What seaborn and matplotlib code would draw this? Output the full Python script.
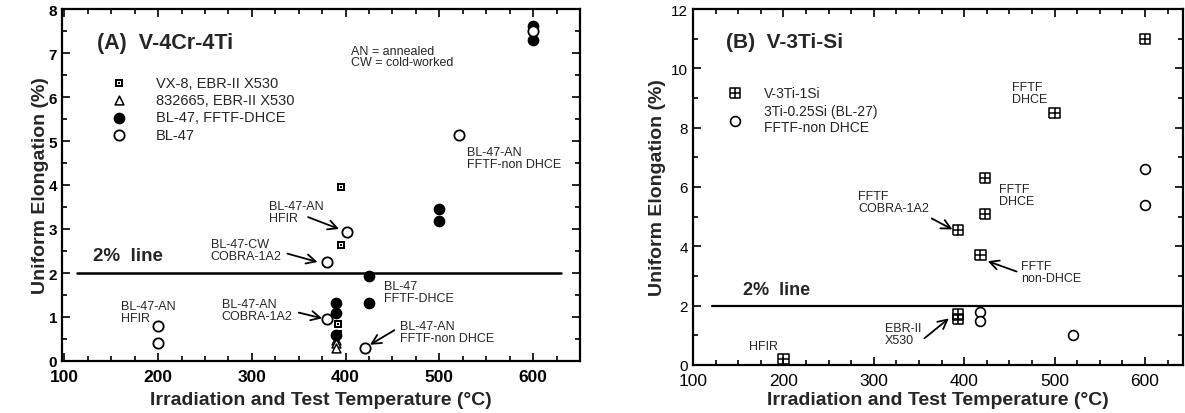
import numpy as np
import matplotlib
matplotlib.use("Agg")
import matplotlib.pyplot as plt
from matplotlib.path import Path
from matplotlib.ticker import MultipleLocator
import seaborn as sns

# ---------------- data: panel A (V-4Cr-4Ti) ----------------
vx8_temp = [395, 395, 392, 392]
vx8_elong = [3.95, 2.63, 0.84, 0.62]

h832665_temp = [390, 390, 390]
h832665_elong = [0.48, 0.40, 0.30]

bl47_dhce_temp = [390, 390, 390, 425, 425, 500, 500, 600, 600]
bl47_dhce_elong = [1.32, 1.10, 0.59, 1.93, 1.32, 3.46, 3.18, 7.62, 7.30]

bl47_temp = [200, 200, 380, 380, 401, 421, 521, 600]
bl47_elong = [0.80, 0.40, 0.95, 2.26, 2.94, 0.30, 5.13, 7.49]

# ---------------- data: panel B (V-3Ti-Si) ----------------
v3ti1si_temp = [600, 500, 423, 423, 393, 418, 393, 393, 200]
v3ti1si_elong = [11.0, 8.5, 6.3, 5.1, 4.55, 3.7, 1.7, 1.55, 0.2]

bl27_temp = [600, 600, 418, 418, 520]
bl27_elong = [6.6, 5.4, 1.8, 1.5, 1.0]

xticks = [100, 200, 300, 400, 500, 600]
yticks_a = [0, 1, 2, 3, 4, 5, 6, 7, 8]
yticks_b = [0, 2, 4, 6, 8, 10, 12]

# ---------------- styling ----------------
sns.set_theme(style="ticks")
plt.rcParams["font.family"] = ["Liberation Sans", "DejaVu Sans"]
plt.rcParams["axes.linewidth"] = 1.6
plt.rcParams["axes.edgecolor"] = "black"


def dotted_square():
    # outer square, hole, and centre dot
    o, h, d = 1.0, 0.55, 0.25
    verts, codes = [], []
    for s, ccw in ((o, True), (h, False), (d, True)):
        sq = [(-s, -s), (s, -s), (s, s), (-s, s)]
        if not ccw:
            sq = sq[::-1]
        verts += sq + [sq[0]]
        codes += [Path.MOVETO, Path.LINETO, Path.LINETO, Path.LINETO, Path.CLOSEPOLY]
    return Path(verts, codes)


def crossed_square():
    verts = [(-1, -1), (1, -1), (1, 1), (-1, 1), (-1, -1),
             (-1, 0), (1, 0), (0, -1), (0, 1)]
    codes = [Path.MOVETO, Path.LINETO, Path.LINETO, Path.LINETO, Path.LINETO,
             Path.MOVETO, Path.LINETO, Path.MOVETO, Path.LINETO]
    return Path(verts, codes)


def style_axes(ax, xlim, ylim, yminor, yticks, bold, xlabelpad, ylabelpad):
    ax.set_xlim(*xlim)
    ax.set_ylim(*ylim)
    ax.set_xticks(xticks)
    ax.set_yticks(yticks)
    ax.xaxis.set_minor_locator(MultipleLocator(25))
    ax.yaxis.set_minor_locator(MultipleLocator(yminor))
    ax.tick_params(which="both", direction="in", top=True, right=True,
                   colors="black", width=1.2)
    ax.tick_params(which="major", length=6)
    ax.tick_params(which="minor", length=3.5)
    ax.tick_params(axis="x", which="major", pad=6)
    for spine in ax.spines.values():
        spine.set_visible(True)
        spine.set_color("black")
    weight = "bold" if bold else "normal"
    for lab in ax.get_xticklabels():
        lab.set_fontsize(12.5)
        lab.set_fontweight(weight)
    for lab in ax.get_yticklabels():
        lab.set_fontsize(11)
        lab.set_fontweight(weight)
    ax.set_xlabel("Irradiation and Test Temperature (°C)", fontsize=14,
                  fontweight="bold", labelpad=xlabelpad)
    ax.set_ylabel("Uniform Elongation (%)", fontsize=14, fontweight="bold",
                  labelpad=ylabelpad)


def arrow(ax, start, end):
    ax.annotate("", xy=end, xytext=start,
                arrowprops=dict(arrowstyle="->,head_length=0.55,head_width=0.28",
                                color="black", lw=1.3, shrinkA=0, shrinkB=0))


fig = plt.figure(figsize=(11.85, 4.14), dpi=100)
ax_a = fig.add_axes([62 / 1185, 52 / 414, 518 / 1185, 352 / 414])
ax_b = fig.add_axes([693 / 1185, 48 / 414, 490 / 1185, 356 / 414])

# ---------------- panel A ----------------
sns.scatterplot(x=vx8_temp, y=vx8_elong, marker=dotted_square(), s=30,
                facecolor="black", edgecolor="none", linewidth=0,
                label="VX-8, EBR-II X530", ax=ax_a, zorder=4)
sns.scatterplot(x=h832665_temp, y=h832665_elong, marker="^", s=40,
                facecolor="white", edgecolor="black", linewidth=1.1,
                label="832665, EBR-II X530", ax=ax_a, zorder=3)
sns.scatterplot(x=bl47_dhce_temp, y=bl47_dhce_elong, marker="o", s=55,
                facecolor="black", edgecolor="black", linewidth=1,
                label="BL-47, FFTF-DHCE", ax=ax_a, zorder=3)
sns.scatterplot(x=bl47_temp, y=bl47_elong, marker="o", s=55,
                facecolor="white", edgecolor="black", linewidth=1.3,
                label="BL-47", ax=ax_a, zorder=3)

ax_a.plot([113, 630], [2, 2], color="black", lw=1.8, zorder=2)
style_axes(ax_a, (97.5, 650), (0, 8), 0.5, yticks_a, bold=True,
           xlabelpad=5, ylabelpad=0)

ax_a.legend(loc="upper left", bbox_to_anchor=(0.085, 0.826), frameon=False,
            fontsize=10.5, handletextpad=2.0, labelspacing=0.22,
            handlelength=1.0, borderaxespad=0)

ax_a.text(135, 7.25, "(A)  V-4Cr-4Ti", fontsize=15.5, fontweight="bold",
          va="center", ha="left")
ax_a.text(406, 6.92, "AN = annealed\nCW = cold-worked", fontsize=9,
          va="center", ha="left", linespacing=0.95)
ax_a.text(131, 2.4, "2%  line", fontsize=13.5, fontweight="bold",
          va="center", ha="left")

fs = 9
ax_a.text(318, 3.39, "BL-47-AN\nHFIR", fontsize=fs, va="center", ha="left",
          linespacing=1.0)
arrow(ax_a, (360, 3.27), (393, 3.0))
ax_a.text(256, 2.53, "BL-47-CW\nCOBRA-1A2", fontsize=fs, va="center", ha="left",
          linespacing=1.0)
arrow(ax_a, (338, 2.44), (370, 2.25))
ax_a.text(160, 1.12, "BL-47-AN\nHFIR", fontsize=fs, va="center", ha="left",
          linespacing=1.0)
ax_a.text(268, 1.15, "BL-47-AN\nCOBRA-1A2", fontsize=fs, va="center", ha="left",
          linespacing=1.0)
arrow(ax_a, (350, 1.1), (375, 0.97))
ax_a.text(441, 1.57, "BL-47\nFFTF-DHCE", fontsize=fs, va="center", ha="left",
          linespacing=1.0)
ax_a.text(458, 0.65, "BL-47-AN\nFFTF-non DHCE", fontsize=fs, va="center",
          ha="left", linespacing=1.0)
arrow(ax_a, (452, 0.70), (426, 0.37))
ax_a.text(530, 4.62, "BL-47-AN\nFFTF-non DHCE", fontsize=fs, va="center",
          ha="left", linespacing=1.0)

# ---------------- panel B ----------------
sns.scatterplot(x=v3ti1si_temp, y=v3ti1si_elong, marker=crossed_square(), s=55,
                facecolor="none", edgecolor="black", linewidth=1.1,
                label="V-3Ti-1Si", ax=ax_b, zorder=3)
sns.scatterplot(x=bl27_temp, y=bl27_elong, marker="o", s=50,
                facecolor="white", edgecolor="black", linewidth=1.2,
                label="3Ti-0.25Si (BL-27)\nFFTF-non DHCE", ax=ax_b, zorder=3)

ax_b.plot([121, 645], [2, 2], color="black", lw=1.6, zorder=2)
style_axes(ax_b, (102, 642), (0, 12), 1, yticks_b, bold=False,
           xlabelpad=2, ylabelpad=4)

ax_b.legend(loc="upper left", bbox_to_anchor=(0.06, 0.80), frameon=False,
            fontsize=10, handletextpad=1.6, labelspacing=0.3,
            handlelength=1.0, borderaxespad=0)

ax_b.text(136, 10.9, "(B)  V-3Ti-Si", fontsize=15, fontweight="bold",
          va="center", ha="left")
ax_b.text(155, 2.56, "2%  line", fontsize=13, fontweight="bold",
          va="center", ha="left")
ax_b.text(453, 9.18, "FFTF\nDHCE", fontsize=fs, va="center", ha="left",
          linespacing=1.0)
ax_b.text(438, 5.73, "FFTF\nDHCE", fontsize=fs, va="center", ha="left",
          linespacing=1.0)
ax_b.text(283, 5.48, "FFTF\nCOBRA-1A2", fontsize=fs, va="center", ha="left",
          linespacing=1.0)
arrow(ax_b, (364, 4.94), (387, 4.57))
ax_b.text(463, 3.13, "FFTF\nnon-DHCE", fontsize=fs, va="center", ha="left",
          linespacing=1.0)
arrow(ax_b, (458, 3.15), (426, 3.5))
ax_b.text(312, 1.04, "EBR-II\nX530", fontsize=fs, va="center", ha="left",
          linespacing=1.0)
arrow(ax_b, (356, 0.9), (383, 1.57))
ax_b.text(161.5, 0.64, "HFIR", fontsize=fs, va="center", ha="left")

fig.savefig("out.png", dpi=100)
